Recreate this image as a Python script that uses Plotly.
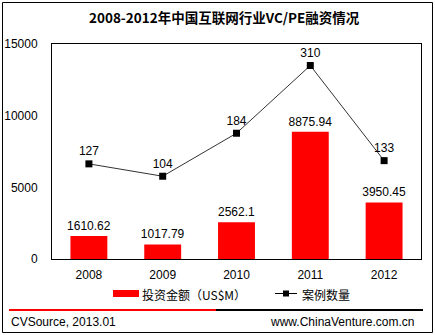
import plotly.graph_objects as go

years = ["2008", "2009", "2010", "2011", "2012"]
amount = [1610.62, 1017.79, 2562.1, 8875.94, 3950.45]
amount_labels = ["1610.62", "1017.79", "2562.1", "8875.94", "3950.45"]
cases = [127, 104, 184, 310, 133]
y_ticks = [0, 5000, 10000, 15000]
y_tick_text = ["0", "5000", "10000", "15000"]

FONT = "Arial"
CJK = "Noto Sans CJK SC"

fig = go.Figure()
fig.add_trace(go.Bar(
    x=years, y=amount, text=amount_labels, textposition="outside",
    textfont=dict(size=12, color="black", family=FONT), constraintext="none",
    marker=dict(color="#FF0000", line=dict(width=0)), width=0.5,
    cliponaxis=False, showlegend=False, name="投资金额（US$M）"))
fig.add_trace(go.Scatter(
    x=years, y=cases, yaxis="y2", mode="lines+markers+text",
    text=[str(c) for c in cases], textposition="top center",
    textfont=dict(size=12, color="black", family=FONT),
    line=dict(color="#333333", width=1),
    marker=dict(symbol="square", size=7, color="black"),
    cliponaxis=False, showlegend=False, name="案例数量"))

W, H = 435, 335
L, R, T, B = 52, 14, 44, 76
pw = W - L - R
ph = H - T - B

def X(p):
    return (p - L) / pw

def Y(p):
    return (H - B - p) / ph

fig.update_layout(
    width=W, height=H,
    margin=dict(l=L, r=R, t=T, b=B),
    paper_bgcolor="white", plot_bgcolor="white",
    font=dict(family=FONT, size=12, color="black"),
    xaxis=dict(showline=True, linecolor="black", linewidth=1, mirror=True,
               ticks="", showgrid=False, ticklabelstandoff=5, automargin=False,
               tickfont=dict(size=12, family=FONT)),
    yaxis=dict(range=[0, 15000], tickvals=y_ticks, ticktext=y_tick_text, showline=True,
               linecolor="black", linewidth=1, mirror=True, ticks="", showgrid=False,
               zeroline=False, ticklabelstandoff=11, automargin=False,
               tickfont=dict(size=12, family=FONT)),
    yaxis2=dict(range=[-50, 350], overlaying="y", visible=False),
    showlegend=False,
)

shapes = [
    dict(type="rect", xref="paper", yref="paper", x0=X(2.5), x1=X(432.5), y0=Y(332.5), y1=Y(2.5),
         line=dict(color="black", width=1)),
    dict(type="rect", xref="paper", yref="paper", x0=X(113), x1=X(139), y0=Y(297), y1=Y(290),
         fillcolor="#FF0000", line=dict(width=0)),
    dict(type="line", xref="paper", yref="paper", x0=X(275), x1=X(297), y0=Y(293.5), y1=Y(293.5),
         line=dict(color="black", width=1)),
    dict(type="rect", xref="paper", yref="paper", x0=X(283), x1=X(289), y0=Y(296.5), y1=Y(290.5),
         fillcolor="black", line=dict(width=0)),
    dict(type="line", xref="paper", yref="paper", x0=X(9), x1=X(216), y0=Y(310), y1=Y(310),
         line=dict(color="#FF0000", width=2)),
    dict(type="line", xref="paper", yref="paper", x0=X(216), x1=X(423), y0=Y(310), y1=Y(310),
         line=dict(color="black", width=2)),
]

annotations = [
    dict(text="<b>2008-2012年中国互联网行业VC/PE融资情况</b>", xref="paper", yref="paper",
         x=X(224), y=Y(17), xanchor="center", yanchor="middle", showarrow=False,
         font=dict(size=13.5, family=CJK, color="black")),
    dict(text="投资金额（US$M）", xref="paper", yref="paper", x=X(140), y=Y(294),
         xanchor="left", yanchor="middle", showarrow=False,
         font=dict(size=12, family=CJK, color="black")),
    dict(text="案例数量", xref="paper", yref="paper", x=X(300), y=Y(294),
         xanchor="left", yanchor="middle", showarrow=False,
         font=dict(size=12, family=CJK, color="black")),
    dict(text="CVSource, 2013.01", xref="paper", yref="paper", x=X(9), y=Y(322),
         xanchor="left", yanchor="middle", showarrow=False,
         font=dict(size=12, family=FONT, color="black")),
    dict(text="www.ChinaVenture.com.cn", xref="paper", yref="paper", x=X(416), y=Y(322),
         xanchor="right", yanchor="middle", showarrow=False,
         font=dict(size=12, family=FONT, color="black")),
]

fig.update_layout(shapes=shapes, annotations=annotations)
fig.write_html("out.html")
